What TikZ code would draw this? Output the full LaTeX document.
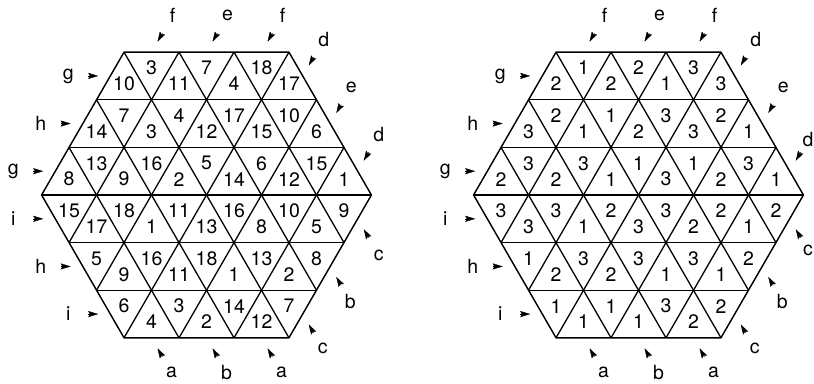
\documentclass[tikz,border=0pt]{standalone}
\usepackage{fontspec}
\setmainfont{TeX Gyre Heros}
\usetikzlibrary{arrows.meta,calc}

\tikzset{
  gridline/.style={line width=1.3pt,line cap=round,line join=round},
  cellnum/.style={font=\fontsize{19.5}{20}\selectfont,inner sep=0pt},
  sidelabel/.style={font=\fontsize{19.5}{20}\selectfont,inner sep=0pt},
  marker/.style={-{Stealth[length=10pt,width=6pt,inset=1.5pt]},line width=0.4pt}
}

% triangular grid of side 3 around the scope origin
\newcommand{\hexgrid}{%
  \begin{scope}
    \clip (0:165pt) -- (60:165pt) -- (120:165pt) -- (180:165pt)
      -- (240:165pt) -- (300:165pt) -- cycle;
    \foreach \k in {-3,...,3} {
      \draw[gridline] (-170pt,\k*47.63pt) -- (170pt,\k*47.63pt);
      \draw[gridline] (\k*55pt,0) ++(240:200pt) -- ++(60:400pt);
      \draw[gridline] (\k*55pt,0) ++(300:200pt) -- ++(120:400pt);
    }
  \end{scope}
  \draw[gridline] (0:165pt) -- (60:165pt) -- (120:165pt) -- (180:165pt)
    -- (240:165pt) -- (300:165pt) -- cycle;
}

% numbers, one list per row of triangles, top to bottom
\newcommand{\cellnums}[1]{%
  \foreach \r/\row in {#1} {
    \foreach \v [count=\i from 0] in \row {
      \pgfmathsetmacro\cx{-(110+27.5*min(\r,5-\r))+27.5*(\i+1)}
      \pgfmathsetmacro\isup{ifthenelse(\r<3,mod(\i+1,2),mod(\i,2))}
      \pgfmathsetmacro\cy{ifthenelse(\isup==1,(2-\r)*47.63+15.88,(3-\r)*47.63-15.88)}
      \node[cellnum] (n\r-\i) at (\cx pt,\cy pt) {\v};
    }
  }
}

% letters and markers round the hexagon; #1 = distance of the two rightmost letters
\newcommand{\sidemarks}[1][42]{%
  \foreach \x/\y/\d/\t [count=\k] in {
      -96.25/2.5/180/g, -123.75/1.5/180/h, -151.25/0.5/180/g,
      -151.25/-0.5/180/i, -123.75/-1.5/180/h, -96.25/-2.5/180/i,
      -55/3/60/f, 0/3/60/e, 55/3/60/f,
      96.25/2.5/60/d, 123.75/1.5/60/e, 151.25/0.5/60/d,
      -55/-3/-60/a, 0/-3/-60/b, 55/-3/-60/a,
      151.25/-0.5/-60/c, 123.75/-1.5/-60/b, 96.25/-2.5/-60/c} {
    \pgfmathsetmacro\ld{ifthenelse(\k==12||\k==16,#1,ifthenelse(\d==-60,40,42))}
    \coordinate (m\k) at (\x pt,\y*47.63pt);
    \node[sidelabel] (l\k) at ($(m\k)+(\d:\ld pt)$) {\t};
    \coordinate (s\k) at ($(m\k)+(\d:22pt)$);
    \coordinate (e\k) at ($(m\k)+(\d:12pt)$);
    \draw[marker] (s\k) -- (e\k);
  }
}

\begin{document}
\begin{tikzpicture}
  \useasboundingbox (0,0) rectangle (814pt,383pt);
  % Left hexagon
  \begin{scope}[shift={(206.5pt,188pt)},name prefix=L-]
    \hexgrid
    \cellnums{0/{10,3,11,7,4,18,17},
              1/{14,7,3,4,12,17,15,10,6},
              2/{8,13,9,16,2,5,14,6,12,15,1},
              3/{15,17,18,1,11,13,16,8,10,5,9},
              4/{5,9,16,11,18,1,13,2,8},
              5/{6,4,3,2,14,12,7}}
    \sidemarks
  \end{scope}
  % Right hexagon
  \begin{scope}[shift={(638.5pt,188pt)},name prefix=R-]
    \hexgrid
    \cellnums{0/{2,1,2,2,1,3,3},
              1/{3,2,1,1,2,3,3,2,1},
              2/{2,3,2,3,1,1,3,1,2,3,1},
              3/{3,3,3,1,2,3,3,2,2,1,2},
              4/{1,2,3,2,3,1,3,1,2},
              5/{1,1,1,1,3,2,2}}
    \sidemarks[36.5]
  \end{scope}
\end{tikzpicture}
\end{document}
